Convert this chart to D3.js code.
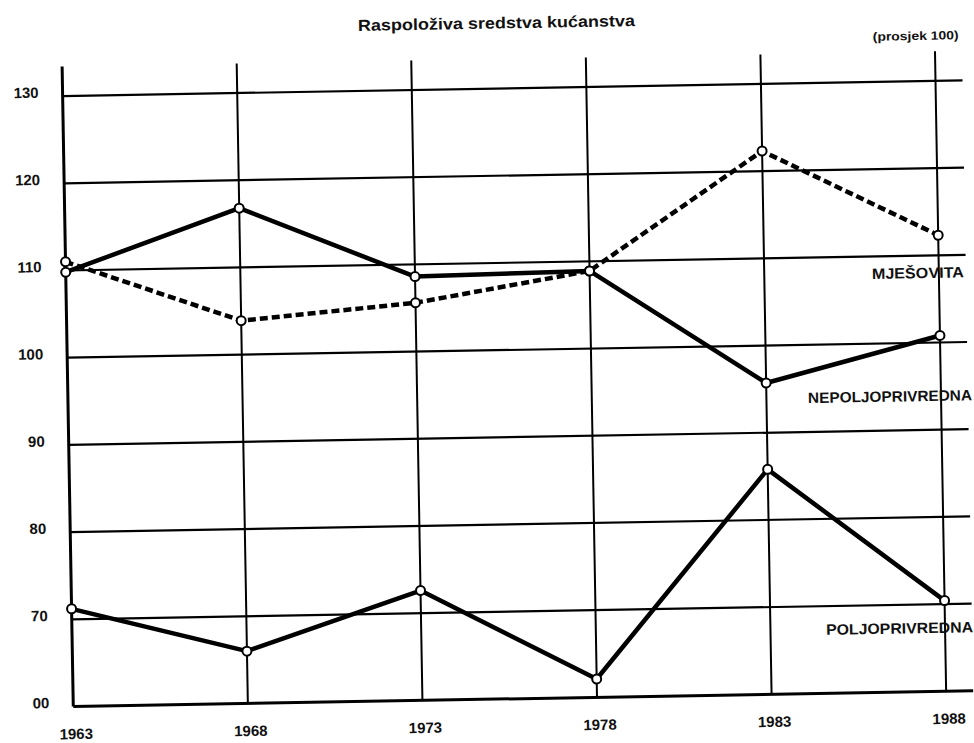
<!DOCTYPE html>
<html><head><meta charset="utf-8">
<script src="https://cdn.jsdelivr.net/npm/d3@7"></script>
<style>body{margin:0;background:#fff}</style>
</head><body>
<svg id="c" width="974" height="743"></svg>
<script>
// ---- data ----
const years = [1963, 1968, 1973, 1978, 1983, 1988];
const yTicks = [60, 70, 80, 90, 100, 110, 120, 130];
const yTickLabels = ["00", "70", "80", "90", "100", "110", "120", "130"];
const nepoljoprivredna = [109.8, 116.8, 108.6, 108.9, 95.7, 100.8];
const mjesovita = [111.0, 103.9, 105.6, 108.9, 122.3, 112.3];
const poljoprivredna = [71.2, 66.0, 72.6, 62.1, 85.8, 70.4];
const seriesNames = ["MJEŠOVITA", "NEPOLJOPRIVREDNA", "POLJOPRIVREDNA"];
const titleText = "Raspoloživa sredstva kućanstva";
const unitNote = "(prosjek 100)";

// ---- chart ----
const svg = d3.select("#c");
svg.append("rect").attr("width", 974).attr("height", 743).attr("fill", "#fff");
const root = svg.append("g").attr("transform", "rotate(-1 500 400)");
const FONT = "'Liberation Sans', Arial, Helvetica, sans-serif";

const x = d3.scaleLinear().domain([1963, 1988]).range([68, 941]);
const y = d3.scaleLinear().domain([60, 130]).range([699, 88.5]);
const gridRight = 968, gridTop = 59;

// horizontal gridlines
root.append("g").selectAll("line").data(yTicks).join("line")
  .attr("x1", x(1963)).attr("x2", gridRight)
  .attr("y1", d => y(d)).attr("y2", d => y(d))
  .attr("stroke", "#000").attr("stroke-width", d => d === 60 ? 3 : 2.2);

// vertical gridlines
root.append("g").selectAll("line").data(years).join("line")
  .attr("x1", d => x(d)).attr("x2", d => x(d))
  .attr("y1", gridTop).attr("y2", y(60))
  .attr("stroke", "#000").attr("stroke-width", d => d === 1963 ? 3 : 2);

// left axis labels
const ay = root.append("g").attr("transform", `translate(${x(1963)},0)`)
  .call(d3.axisLeft(y).tickValues(yTicks).tickFormat((d, i) => yTickLabels[i]).tickSize(0).tickPadding(24));
ay.select(".domain").remove();
ay.selectAll("text").attr("font-family", FONT).attr("font-size", 15).attr("font-weight", "bold")
  .attr("fill", "#111").attr("y", -4);

// bottom axis labels
const ax = root.append("g").attr("transform", `translate(0,${y(60)})`)
  .call(d3.axisBottom(x).tickValues(years).tickFormat(d3.format("d")).tickSize(0).tickPadding(22));
ax.select(".domain").remove();
ax.selectAll("text").attr("font-family", FONT).attr("font-size", 15).attr("font-weight", "bold")
  .attr("fill", "#111").attr("dx", 2);

// series lines
const line = d3.line().x((d, i) => x(years[i])).y(d => y(d));
const series = [
  { vals: mjesovita, dash: "8,4" },
  { vals: nepoljoprivredna, dash: null },
  { vals: poljoprivredna, dash: null }
];
series.forEach(s => {
  root.append("path").datum(s.vals).attr("d", line)
    .attr("fill", "none").attr("stroke", "#000").attr("stroke-width", 4.5)
    .attr("stroke-linejoin", "round")
    .attr("stroke-dasharray", s.dash);
});
series.forEach(s => {
  root.append("g").selectAll("circle").data(s.vals).join("circle")
    .attr("cx", (d, i) => x(years[i])).attr("cy", d => y(d)).attr("r", 4.5)
    .attr("fill", "#fff").attr("stroke", "#000").attr("stroke-width", 2);
});

// series labels
const labelPos = [
  { name: seriesNames[0], xr: 966, yb: 285.5, len: 92 },
  { name: seriesNames[1], xr: 972, yb: 408.5, len: 164 },
  { name: seriesNames[2], xr: 969, yb: 640.5, len: 147 }
];
root.append("g").selectAll("text").data(labelPos).join("text")
  .attr("x", d => d.xr - d.len).attr("y", d => d.yb)
  .attr("textLength", d => d.len).attr("lengthAdjust", "spacingAndGlyphs")
  .attr("font-family", FONT).attr("font-size", 15).attr("font-weight", "bold")
  .attr("fill", "#111").text(d => d.name);

// title and note
root.append("text").attr("x", 503 - 138.5).attr("y", 28.5)
  .attr("textLength", 277).attr("lengthAdjust", "spacingAndGlyphs")
  .attr("font-family", FONT).attr("font-size", 16).attr("font-weight", "bold")
  .attr("fill", "#111").text(titleText);
root.append("text").attr("x", 965 - 86).attr("y", 47.3)
  .attr("textLength", 86).attr("lengthAdjust", "spacingAndGlyphs")
  .attr("font-family", FONT).attr("font-size", 12).attr("font-weight", "bold")
  .attr("fill", "#111").text(unitNote);
</script>
</body></html>
